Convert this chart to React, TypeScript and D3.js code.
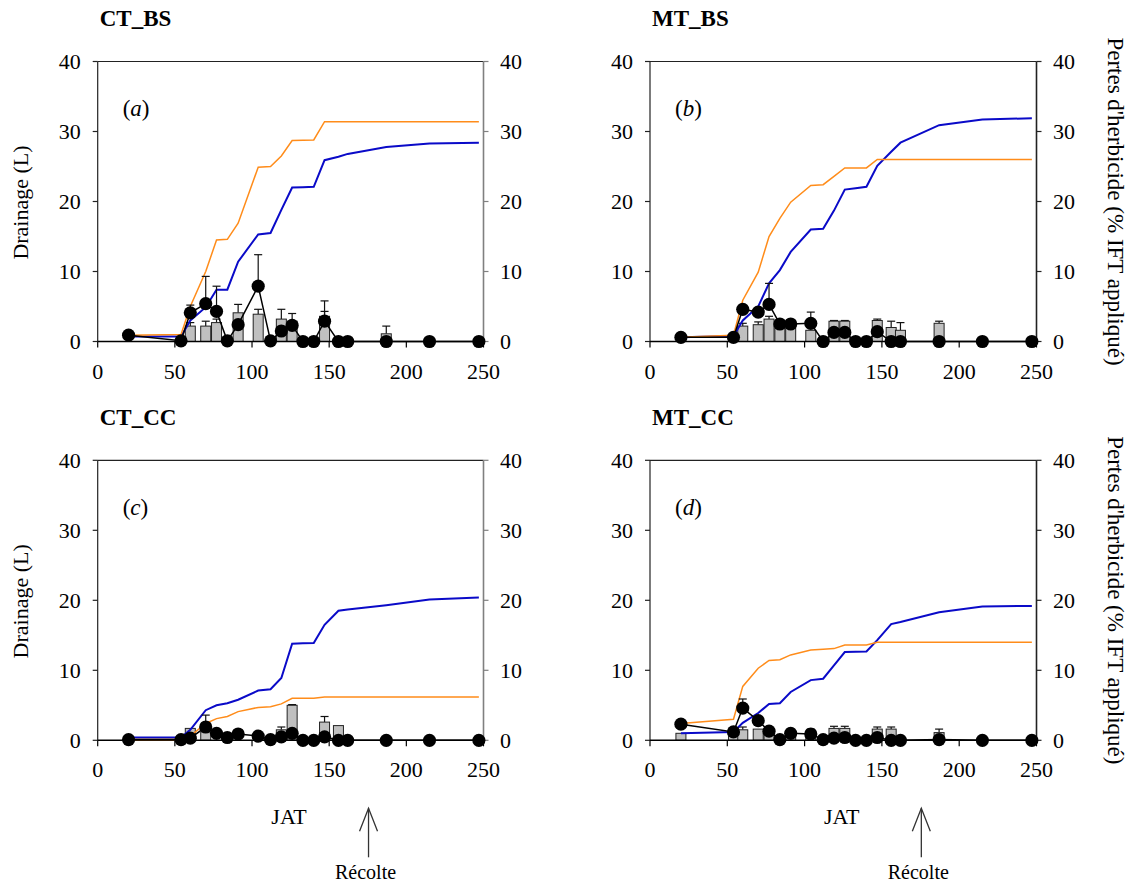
import React from 'react';
import * as d3 from 'd3';

// Sampling days (JAT)
const days = [20, 54, 60, 70, 77, 84, 91, 104, 112, 119, 126, 133, 140, 147, 156, 162, 187, 215, 247];
const xTicks = [0, 50, 100, 150, 200, 250];
const yTicks = [0, 10, 20, 30, 40];

// Panel (a) CT_BS
const cumDrainA = [0.7, 0.7, 3.0, 4.9, 7.4, 7.4, 11.4, 15.3, 15.5, 18.8, 22.0, 22.05, 22.1, 25.9, 26.4, 26.8, 27.8, 28.3, 28.4];
const cumHerbA = [0.9, 1.0, 5.0, 10.0, 14.5, 14.6, 16.9, 24.9, 25.0, 26.5, 28.7, 28.75, 28.8, 31.4, 31.4, 31.4, 31.4, 31.4, 31.4];
const drainA = [0, 0, 2.2, 2.2, 2.7, 0, 4.1, 3.9, 0, 3.2, 2.9, 0, 0, 3.6, 0, 0, 1.1, 0, 0];
const drainErrA = [0, 0, 0.5, 0.7, 0.5, 0, 1.2, 0.7, 0, 1.4, 1.1, 0, 0, 0.7, 0, 0, 1.1, 0, 0];
const herbA = [0.9, 0.1, 4.1, 5.4, 4.3, 0.1, 2.4, 7.9, 0.1, 1.5, 2.3, 0, 0, 2.9, 0, 0, 0, 0, 0];
const herbErrA = [0, 0, 1.1, 3.9, 3.6, 0, 0, 4.5, 0, 0, 0, 0, 0, 2.9, 0, 0, 0, 0, 0];

// Panel (b) MT_BS
const cumDrainB = [0.6, 0.8, 3.0, 5.0, 8.3, 10.2, 12.8, 16.0, 16.1, 18.7, 21.7, 21.9, 22.1, 25.1, 27.1, 28.4, 30.9, 31.7, 31.9];
const cumHerbB = [0.6, 0.9, 5.9, 9.9, 15.0, 17.6, 19.9, 22.3, 22.4, 23.6, 24.8, 24.8, 24.8, 26.0, 26.0, 26.0, 26.0, 26.0, 26.0];
const drainB = [0, 0, 2.2, 2.4, 3.2, 1.9, 1.9, 1.6, 0, 2.9, 2.9, 0, 0, 3.0, 2.0, 1.6, 2.6, 0, 0];
const drainErrB = [0, 0, 0.4, 0.4, 0.4, 0, 0, 0, 0, 0.1, 0.1, 0, 0, 0.2, 0.9, 1.1, 0.3, 0, 0];
const herbB = [0.6, 0.6, 4.6, 4.2, 5.3, 2.5, 2.5, 2.6, 0, 1.3, 1.3, 0, 0, 1.4, 0, 0, 0, 0, 0];
const herbErrB = [0, 0, 0, 0, 3.0, 0, 0, 1.6, 0, 0, 0, 0, 0, 0, 0, 0, 0, 0, 0];

// Panel (c) CT_CC
const cumDrainC = [0.4, 0.4, 1.5, 4.3, 5.0, 5.3, 5.8, 7.1, 7.3, 8.9, 13.8, 13.85, 13.9, 16.5, 18.5, 18.7, 19.3, 20.1, 20.4];
const cumHerbC = [0.1, 0.1, 0.6, 2.4, 3.1, 3.4, 4.1, 4.7, 4.8, 5.2, 6.0, 6.0, 6.0, 6.2, 6.2, 6.2, 6.2, 6.2, 6.2];
const drainC = [0, 0, 1.7, 1.2, 0, 0, 0, 0, 0, 1.5, 5.0, 0, 0, 2.6, 2.1, 0, 0, 0, 0];
const drainErrC = [0, 0, 0, 0, 0, 0, 0, 0, 0, 0.4, 0.1, 0, 0, 0.8, 0, 0, 0, 0, 0];
const herbC = [0.1, 0.1, 0.3, 1.9, 1.0, 0.4, 0.9, 0.6, 0.1, 0.5, 1.0, 0, 0, 0.5, 0, 0, 0, 0, 0];
const herbErrC = [0, 0, 0, 1.7, 0, 0, 0, 0, 0, 0, 0, 0, 0, 0, 0, 0, 0, 0, 0];

// Panel (d) MT_CC
const cumDrainD = [1.0, 1.2, 2.5, 3.9, 5.2, 5.3, 6.9, 8.6, 8.8, 10.7, 12.6, 12.65, 12.7, 14.3, 16.6, 16.9, 18.3, 19.1, 19.2];
const cumHerbD = [2.4, 3.0, 7.7, 10.3, 11.4, 11.5, 12.2, 12.9, 13.0, 13.1, 13.6, 13.6, 13.6, 14.0, 14.0, 14.0, 14.0, 14.0, 14.0];
const drainD = [1.0, 0.6, 1.5, 1.6, 1.4, 0, 1.2, 1.2, 0, 1.7, 1.7, 0, 0, 1.6, 1.6, 0, 1.1, 0, 0];
const drainErrD = [0, 0, 0.4, 0, 0.3, 0, 0.4, 0.4, 0, 0.3, 0.3, 0, 0, 0.3, 0.3, 0, 0.5, 0, 0];
const herbD = [2.3, 1.2, 4.6, 2.8, 1.3, 0.1, 1.0, 0.9, 0.1, 0.3, 0.4, 0, 0, 0.4, 0, 0, 0.1, 0, 0];
const herbErrD = [0, 0, 1.3, 0, 0.3, 0, 0, 0, 0, 0, 0, 0, 0, 0, 0, 0, 0, 0, 0];

const harvestDay = 175.5;

const FONT = '"Liberation Serif", "Times New Roman", serif';
const BLUE = '#0a0ac8';
const ORANGE = '#ff8c1a';

type PanelProps = {
  title: string;
  letter: string;
  x0: number; x1: number; yTop: number; yBot: number;
  cumDrain: number[]; cumHerb: number[];
  drain: number[]; drainErr: number[];
  herb: number[]; herbErr: number[];
  leftLabel: boolean; rightLabel: boolean; bottomLabel: boolean;
  rightAxisColor: string;
};

function Panel(p: PanelProps) {
  const x = d3.scaleLinear().domain([0, 250]).range([p.x0, p.x1]);
  const y = d3.scaleLinear().domain([0, 40]).range([p.yBot, p.yTop]);
  const line = d3.line<number>().x((_, i) => x(days[i])).y((v) => y(v));
  const barW = 10;
  const cap = 4;
  const midY = (p.yTop + p.yBot) / 2;
  return (
    <g>
      {/* title */}
      <text x={p.x0 + 2} y={p.yTop - 35.5} fontFamily={FONT} fontWeight="bold" fontSize={23}>{p.title}</text>
      {/* panel letter */}
      <text x={p.x0 + 25} y={p.yTop + 54.5} fontFamily={FONT} fontSize={23}>
        (<tspan fontStyle="italic">{p.letter}</tspan>)
      </text>
      {/* axes */}
      <line x1={p.x0} x2={p.x1} y1={p.yTop} y2={p.yTop} stroke="#222" strokeWidth={1.2} />
      <line x1={p.x0} x2={p.x0} y1={p.yTop} y2={p.yBot} stroke="#222" strokeWidth={1.2} />
      <line x1={p.x1} x2={p.x1} y1={p.yTop} y2={p.yBot} stroke={p.rightAxisColor} strokeWidth={1.6} />
      {yTicks.map((t) => (
        <g key={'yt' + t}>
          <line x1={p.x0 - 5} x2={p.x0} y1={y(t)} y2={y(t)} stroke="#222" strokeWidth={1.2} />
          <text x={p.x0 - 17} y={y(t)} dy="0.35em" textAnchor="end" fontFamily={FONT} fontSize={22}>{t}</text>
          <line x1={p.x1} x2={p.x1 + 5} y1={y(t)} y2={y(t)} stroke={p.rightAxisColor} strokeWidth={1.2} />
          <text x={p.x1 + 16.5} y={y(t)} dy="0.35em" textAnchor="start" fontFamily={FONT} fontSize={22}>{t}</text>
        </g>
      ))}
      {/* bars */}
      {p.drain.map((v, i) => v > 0 ? (
        <g key={'b' + i}>
          {p.drainErr[i] > 0 && (
            <g stroke="#111" strokeWidth={1.2}>
              <line x1={x(days[i])} x2={x(days[i])} y1={y(v)} y2={y(v + p.drainErr[i])} />
              <line x1={x(days[i]) - cap} x2={x(days[i]) + cap} y1={y(v + p.drainErr[i])} y2={y(v + p.drainErr[i])} />
            </g>
          )}
          <rect x={x(days[i]) - barW / 2} width={barW} y={y(v)} height={y(0) - y(v)} fill="#c0c0c0" stroke="#222" strokeWidth={1} />
        </g>
      ) : null)}
      {/* bottom axis */}
      <line x1={p.x0} x2={p.x1} y1={p.yBot} y2={p.yBot} stroke="#000" strokeWidth={1.4} />
      {xTicks.map((t) => (
        <g key={'xt' + t}>
          <line x1={x(t)} x2={x(t)} y1={p.yBot} y2={p.yBot + 6} stroke="#000" strokeWidth={1.2} />
          <text x={x(t)} y={p.yBot + 37} textAnchor="middle" fontFamily={FONT} fontSize={22}>{t}</text>
        </g>
      ))}
      {/* cumulative lines */}
      <path d={line(p.cumDrain) || ''} fill="none" stroke={BLUE} strokeWidth={2} />
      <path d={line(p.cumHerb) || ''} fill="none" stroke={ORANGE} strokeWidth={1.5} />
      {/* herbicide per event */}
      <path d={line(p.herb) || ''} fill="none" stroke="#000" strokeWidth={1.5} />
      {p.herbErr.map((e, i) => e > 0 ? (
        <g key={'he' + i} stroke="#111" strokeWidth={1.2}>
          <line x1={x(days[i])} x2={x(days[i])} y1={y(p.herb[i])} y2={y(p.herb[i] + e)} />
          <line x1={x(days[i]) - cap} x2={x(days[i]) + cap} y1={y(p.herb[i] + e)} y2={y(p.herb[i] + e)} />
        </g>
      ) : null)}
      {p.herb.map((v, i) => (
        <circle key={'c' + i} cx={x(days[i])} cy={y(v)} r={6.6} fill="#000" />
      ))}
      {p.leftLabel && (
        <text transform={`translate(${p.x0 - 70},${midY + 1}) rotate(-90)`} textAnchor="middle" fontFamily={FONT} fontSize={22}>Drainage (L)</text>
      )}
      {p.rightLabel && (
        <text transform={`translate(${p.x1 + 71},${midY}) rotate(90)`} textAnchor="middle" fontFamily={FONT} fontSize={23}>Pertes d'herbicide (% IFT appliqué)</text>
      )}
      {p.bottomLabel && (
        <g>
          <text x={x(124)} y={p.yBot + 84} textAnchor="middle" fontFamily={FONT} fontSize={22}>JAT</text>
          <g stroke="#333" strokeWidth={1.3} fill="none">
            <line x1={x(harvestDay)} x2={x(harvestDay)} y1={p.yBot + 117} y2={p.yBot + 68} />
            <polyline points={`${x(harvestDay) - 9},${p.yBot + 91} ${x(harvestDay)},${p.yBot + 68} ${x(harvestDay) + 9},${p.yBot + 91}`} />
          </g>
          <text x={x(harvestDay) - 3} y={p.yBot + 139} textAnchor="middle" fontFamily={FONT} fontSize={20}>Récolte</text>
        </g>
      )}
    </g>
  );
}

export default function App() {
  return (
    <svg width={1135} height={883} style={{ position: 'absolute', left: 0, top: 0, background: '#fff' }}>
      <rect width={1135} height={883} fill="#fff" />
      <Panel title="CT_BS" letter="a" x0={97.7} x1={483.5} yTop={61.5} yBot={341.5}
        cumDrain={cumDrainA} cumHerb={cumHerbA} drain={drainA} drainErr={drainErrA} herb={herbA} herbErr={herbErrA}
        leftLabel={true} rightLabel={false} bottomLabel={false} rightAxisColor="#808080" />
      <Panel title="MT_BS" letter="b" x0={650} x1={1036.5} yTop={61.5} yBot={341.5}
        cumDrain={cumDrainB} cumHerb={cumHerbB} drain={drainB} drainErr={drainErrB} herb={herbB} herbErr={herbErrB}
        leftLabel={false} rightLabel={true} bottomLabel={false} rightAxisColor="#222" />
      <Panel title="CT_CC" letter="c" x0={97.7} x1={483.5} yTop={460.3} yBot={740.3}
        cumDrain={cumDrainC} cumHerb={cumHerbC} drain={drainC} drainErr={drainErrC} herb={herbC} herbErr={herbErrC}
        leftLabel={true} rightLabel={false} bottomLabel={true} rightAxisColor="#808080" />
      <Panel title="MT_CC" letter="d" x0={650} x1={1036.5} yTop={460.3} yBot={740.3}
        cumDrain={cumDrainD} cumHerb={cumHerbD} drain={drainD} drainErr={drainErrD} herb={herbD} herbErr={herbErrD}
        leftLabel={false} rightLabel={true} bottomLabel={true} rightAxisColor="#222" />
    </svg>
  );
}
